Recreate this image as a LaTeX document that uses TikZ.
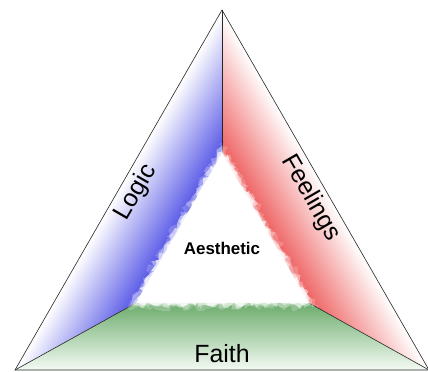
\documentclass[tikz,border=0pt]{standalone}
\usepackage{fontspec}
\setmainfont{Liberation Sans}
\usetikzlibrary{decorations.pathmorphing,calc}
\definecolor{logicblue}{RGB}{82,82,230}
\definecolor{feelred}{RGB}{238,92,92}
\definecolor{faithgreen}{RGB}{108,172,108}
\definecolor{faithlight}{RGB}{244,250,244}
\tikzset{
  edge/.style={draw=black!85, line width=0.6bp},
  label/.style={font=\fontsize{25}{25}\selectfont, inner sep=0pt},
  fuzz/.style={fill=white, decorate, decoration={random steps, segment length=4bp, amplitude=3.5bp}},
}
\begin{document}
\begin{tikzpicture}[x=1bp,y=1bp]
\pgfmathsetseed{7}
\useasboundingbox (0,0) rectangle (428,372);
\fill[white] (0,0) rectangle (428,372);
% outer vertices
\coordinate (A) at (222,362);
\coordinate (B) at (15,2);
\coordinate (C) at (429,2);
% inner vertices
\coordinate (Ai) at (222,219);
\coordinate (Bi) at (136,69);
\coordinate (Ci) at (309,69);
\coordinate (G) at (222,119);
% Logic region
\begin{scope}
  \clip (A)--(B)--(Bi)--(Ai)--cycle;
  \begin{scope}[transform canvas={shift={(15bp,2bp)}, rotate=-29.9}]
    \shade[left color=white, right color=logicblue] (0,-100) rectangle (72,500);
  \end{scope}
\end{scope}
% Feelings region
\begin{scope}
  \clip (A)--(C)--(Ci)--(Ai)--cycle;
  \begin{scope}[transform canvas={shift={(429bp,2bp)}, rotate=29.9}]
    \shade[left color=feelred, right color=white] (-72,-100) rectangle (0,500);
  \end{scope}
\end{scope}
% Faith region
\shade[top color=faithgreen, bottom color=faithlight] (B)--(C)--(Ci)--(Bi)--cycle;
% lines
\draw[edge] (A)--(B)--(C)--cycle;
\draw[edge] (A)--(Ai);
\draw[edge] (B)--(Bi);
\draw[edge] (C)--(Ci);
% fuzzy white centre
\begin{scope}
  \path[fuzz, opacity=0.2] ($(G)!1.10!(Ai)$)--($(G)!1.10!(Bi)$)--($(G)!1.10!(Ci)$)--cycle;
  \path[fuzz, opacity=0.3] ($(G)!1.07!(Ai)$)--($(G)!1.07!(Bi)$)--($(G)!1.07!(Ci)$)--cycle;
  \path[fuzz, opacity=0.5] ($(G)!1.04!(Ai)$)--($(G)!1.04!(Bi)$)--($(G)!1.04!(Ci)$)--cycle;
  \path[fuzz, opacity=0.7] ($(G)!1.015!(Ai)$)--($(G)!1.015!(Bi)$)--($(G)!1.015!(Ci)$)--cycle;
  \path[fill=white] ($(G)!0.97!(Ai)$)--($(G)!0.97!(Bi)$)--($(G)!0.97!(Ci)$)--cycle;
\end{scope}
% labels
\node[label, rotate=60] (logic) at (136,180) {Logic};
\node[label, rotate=-60] (feel) at (311,174) {Feelings};
\node[font=\bfseries\fontsize{17}{17}\selectfont, inner sep=0pt] (aes) at (222,124) {Aesthetic};
\node[label] (faith) at (222,18) {Faith};
\end{tikzpicture}
\end{document}
